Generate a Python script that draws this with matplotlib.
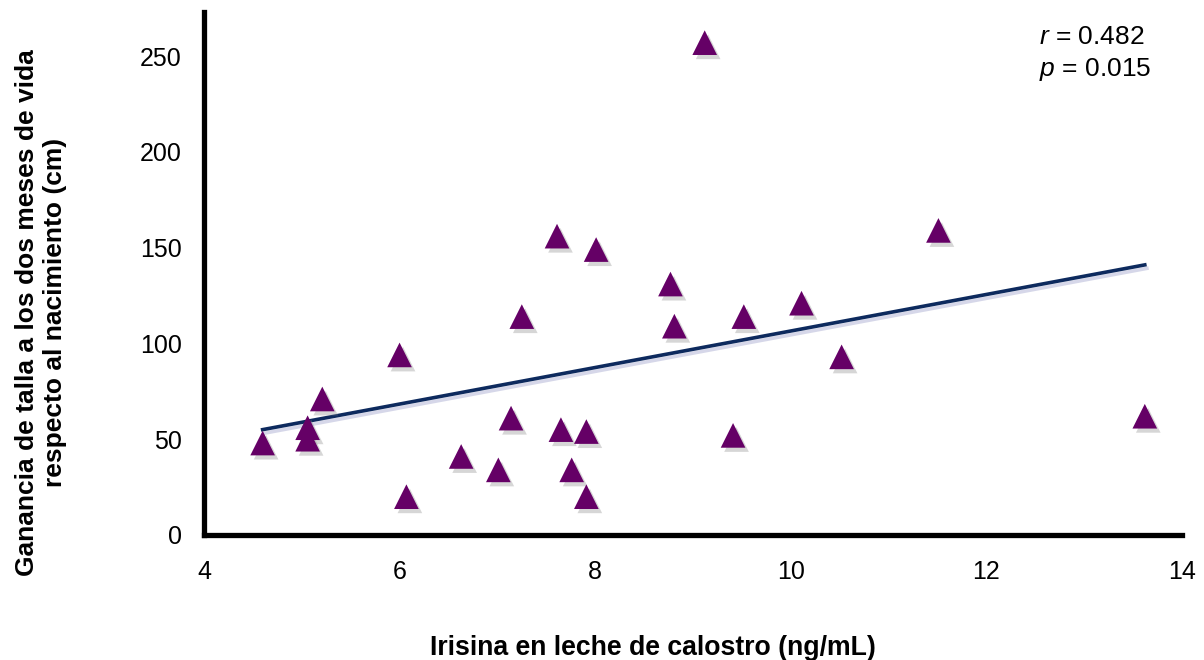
import numpy as np
import matplotlib.pyplot as plt
import matplotlib.patheffects as pe

plt.rcParams['font.family'] = ['Liberation Sans', 'DejaVu Sans']
plt.rcParams['mathtext.fontset'] = 'custom'
plt.rcParams['mathtext.rm'] = 'Liberation Sans'
plt.rcParams['mathtext.it'] = 'Liberation Sans:italic'

# irisina (ng/mL) vs ganancia de talla
irisina = [4.60, 5.06, 5.06, 5.21, 6.00, 6.07, 6.63, 7.01, 7.14, 7.25, 7.61, 7.65,
           7.76, 7.91, 7.91, 8.01, 8.77, 8.81, 9.12, 9.41, 9.52, 10.11, 10.52, 11.51, 13.62]
talla = [48, 56, 50, 71, 94, 20, 41, 34, 61, 114, 156, 55,
         34, 54, 20, 149, 131, 109, 257, 52, 114, 121, 93, 159, 62]

trend_x = [4.6, 13.62]
trend_y = [55, 141]

xticks = [4, 6, 8, 10, 12, 14]
yticks = [0, 50, 100, 150, 200, 250]

fig = plt.figure(figsize=(12.04, 6.6), dpi=100)
ax = fig.add_axes([0.1694, 0.1894, 0.8123, 0.7924])

shadow = [pe.SimplePatchShadow(offset=(2.5, -3), shadow_rgbFace='0.55', alpha=0.35), pe.Normal()]

ax.plot(trend_x, trend_y, color='#0d2a5e', lw=2.6, zorder=2,
        path_effects=[pe.SimpleLineShadow(offset=(1.5, -2.5), shadow_color='#8a8fc0', alpha=0.35), pe.Normal()])
ax.scatter(irisina, talla, marker='^', s=315, color='#650066', edgecolors='none', zorder=3,
           path_effects=shadow)

ax.set_xlim(4, 14)
ax.set_ylim(0, 273)
ax.set_xticks(xticks)
ax.set_yticks(yticks)
ax.tick_params(length=0, labelsize=18)
ax.tick_params(axis='y', pad=16)
ax.tick_params(axis='x', pad=18)

for s in ['top', 'right']:
    ax.spines[s].set_visible(False)
for s in ['left', 'bottom']:
    ax.spines[s].set_linewidth(3.8)

ax.set_xlabel('Irisina en leche de calostro (ng/mL)', fontsize=19.2, fontweight='bold')
ax.xaxis.set_label_coords(0.459, -0.192)
ax.set_ylabel('Ganancia de talla a los dos meses de vida\nrespecto al nacimiento (cm)',
              fontsize=19, fontweight='bold', linespacing=1.2)
ax.yaxis.set_label_coords(-0.140, 0.426)

ax.text(0.854, 0.975, '$r$ = 0.482\n$p$ = 0.015', transform=ax.transAxes, fontsize=19,
        va='top', ha='left', linespacing=1.35)

fig.savefig('out.png', dpi=100)
